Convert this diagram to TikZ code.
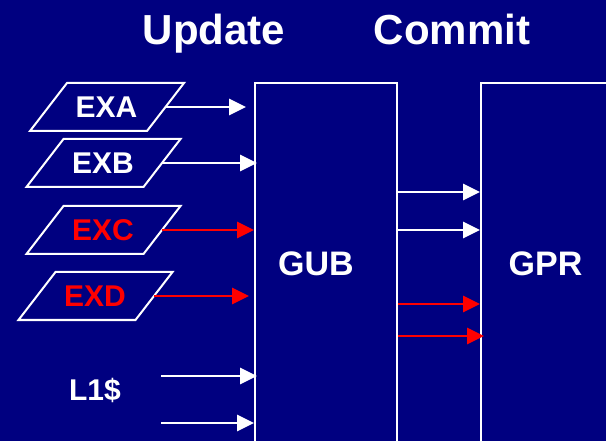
\documentclass[tikz,border=0pt]{standalone}
\usepackage{fontspec}
\setmainfont{Liberation Sans}
\usetikzlibrary{arrows.meta,calc}
\definecolor{navy}{RGB}{0,0,128}

\begin{document}
\begin{tikzpicture}[
  x=1pt, y=-1pt,
  font=\bfseries,
  >={Triangle[length=17pt,width=16pt]},
  unit/.style={draw=white, line width=2pt, minimum width=142pt,
    minimum height=362pt, inner sep=0pt, text=white,
    font=\fontsize{34}{40}\selectfont\bfseries},
  portline/.style={draw=white, line width=2pt, line join=miter},
  port/.style={minimum width=118pt, minimum height=48pt, inner sep=0pt,
    text=white, font=\fontsize{30}{36}\selectfont\bfseries,
    append after command={\pgfextra{\draw[portline]
      ($(\tikzlastnode.center)+(-76.5,24)$) -- ++(117,0) -- ++(37,-48)
      -- ++(-117,0) -- cycle;}}},
  title/.style={text=white, anchor=base,
    font=\fontsize{42}{50}\selectfont\bfseries},
  arrow/.style={->, line width=2.7pt, white},
  redarrow/.style={->, line width=2.7pt, red}
]
  \fill[navy] (0,0) rectangle (606,441);
  \useasboundingbox (0,0) rectangle (606,441);

  \node[title] (update) at (214,45) {Update};
  \node[title] (commit) at (452,45) {Commit};

  \node[unit, label={[text=white, xshift=-10pt,
    font=\fontsize{34}{40}\selectfont\bfseries]center:GUB}] (gub) at (326,264) {};
  \node[unit, minimum width=129pt] (gpr) at (545.5,264) {GPR};

  \node[port] (exa) at (106.5,107) {EXA};
  \node[port] (exb) at (103,163) {EXB};
  \node[port, text=red] (exc) at (103,230) {EXC};
  \node[port, text=red] (exd) at (95,296) {EXD};
  \node[text=white, font=\fontsize{30}{36}\selectfont\bfseries] (l1) at (95,390) {L1\$};

  \coordinate (l1a) at (161,376);
  \coordinate (l1b) at (161,423);
  \coordinate (c1) at (0,192);
  \coordinate (c2) at (0,230);
  \coordinate (c3) at (0,304);
  \coordinate (c4) at (0,336);

  \draw[arrow, shorten >=8pt] (exa.east) -- (exa.east -| gub.west);
  \draw[arrow, shorten >=-3pt] (exb.east) -- (exb.east -| gub.west);
  \draw[redarrow] (exc.east) -- (exc.east -| gub.west);
  \draw[redarrow, shorten >=5pt] (exd.east) -- (exd.east -| gub.west);
  \draw[arrow, shorten >=-3pt] (l1a) -- (l1a -| gub.west);
  \draw[arrow] (l1b) -- (l1b -| gub.west);

  \draw[arrow] (gub.east |- c1) -- (gpr.west |- c1);
  \draw[arrow] (gub.east |- c2) -- (gpr.west |- c2);
  \draw[redarrow] (gub.east |- c3) -- (gpr.west |- c3);
  \draw[redarrow, shorten >=-4pt] (gub.east |- c4) -- (gpr.west |- c4);
\end{tikzpicture}
\end{document}
